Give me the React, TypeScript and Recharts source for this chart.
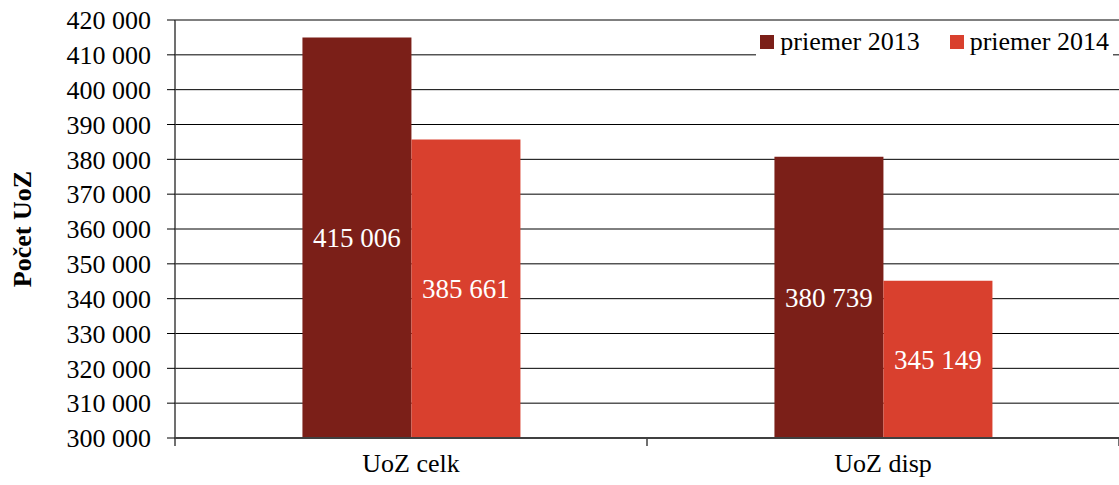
import { BarChart, Bar, XAxis, YAxis, CartesianGrid, Legend, LabelList, Label, ReferenceLine } from 'recharts';

const categories = ['UoZ celk', 'UoZ disp'];
const avg2013 = [415006, 380739];
const avg2014 = [385661, 345149];
const yTicks = [300000, 310000, 320000, 330000, 340000, 350000, 360000, 370000, 380000, 390000, 400000, 410000, 420000];
const boundaries = [0, 1, 2];

const data = categories.map((name, i) => ({ name, idx: i + 0.5, a: avg2013[i], b: avg2014[i] }));

const FONT = '"Liberation Serif", "Times New Roman", Times, serif';
const fmt = (v: number) => String(v).replace(/\B(?=(\d{3})+(?!\d))/g, ' ');
const txt = { fontFamily: FONT, fontSize: 26, fill: '#000' };

const LegendBox = (props: any) => {
  const items = props.payload || [];
  return (
    <div style={{ display: 'flex', background: '#fff', fontFamily: FONT, fontSize: 26, color: '#000', padding: '0 4px', lineHeight: '30px' }}>
      {items.map((it: any, i: number) => (
        <div key={i} style={{ display: 'flex', alignItems: 'center', marginLeft: i ? 30 : 0 }}>
          <span style={{ width: 14, height: 14, background: it.color, display: 'inline-block', marginRight: 6 }} />
          <span>{it.value}</span>
        </div>
      ))}
    </div>
  );
};

export default function App() {
  return (
    <div style={{ position: 'absolute', left: 0, top: 0, background: '#fff', fontFamily: FONT }}>
      <BarChart
        width={1119}
        height={485}
        data={data}
        margin={{ top: 20, right: 0, left: 0, bottom: 0 }}
        barGap={0}
        barCategoryGap="27%"
        style={{ fontFamily: FONT }}
      >
        <CartesianGrid vertical={false} stroke="#000" strokeWidth={1} />
        <XAxis xAxisId="b" type="number" dataKey="idx" domain={[0, 2]} hide />
        <XAxis
          dataKey="name"
          height={47}
          tickLine={false}
          axisLine={{ stroke: '#404040', strokeWidth: 2 }}
          tick={{ ...txt, style: txt }}
          tickMargin={10}
        />
        <YAxis
          width={175}
          domain={[300000, 420000]}
          ticks={yTicks}
          interval={0}
          tickFormatter={fmt}
          tickSize={8}
          tickMargin={16}
          axisLine={{ stroke: '#404040', strokeWidth: 1.5 }}
          tickLine={{ stroke: '#000' }}
          tick={{ ...txt, style: txt }}
        >
          <Label
            value="Počet UoZ"
            angle={-90}
            position="insideLeft"
            offset={22}
            style={{ fontFamily: FONT, fontSize: 26, fontWeight: 'bold', fill: '#000', textAnchor: 'middle' }}
          />
        </YAxis>
        {/* category boundary ticks below the x axis */}
        {boundaries.map((b) => (
          <ReferenceLine
            key={b}
            xAxisId="b"
            segment={[{ x: b, y: 300000 }, { x: b, y: 297700 }]}
            ifOverflow="visible"
            stroke="#404040"
            strokeWidth={1.5}
          />
        ))}
        <Legend
          layout="vertical"
          verticalAlign="middle"
          align="center"
          content={LegendBox}
          wrapperStyle={{ top: 27, right: 6, left: 'auto', width: 'auto' }}
        />
        <Bar dataKey="a" name="priemer 2013" fill="#7B1F18" isAnimationActive={false}>
          <LabelList dataKey="a" position="inside" formatter={(v: any) => fmt(v)} style={{ fill: '#fff', fontFamily: FONT, fontSize: 27 }} />
        </Bar>
        <Bar dataKey="b" name="priemer 2014" fill="#D9402E" isAnimationActive={false}>
          <LabelList dataKey="b" position="inside" formatter={(v: any) => fmt(v)} style={{ fill: '#fff', fontFamily: FONT, fontSize: 27 }} />
        </Bar>
      </BarChart>
    </div>
  );
}
